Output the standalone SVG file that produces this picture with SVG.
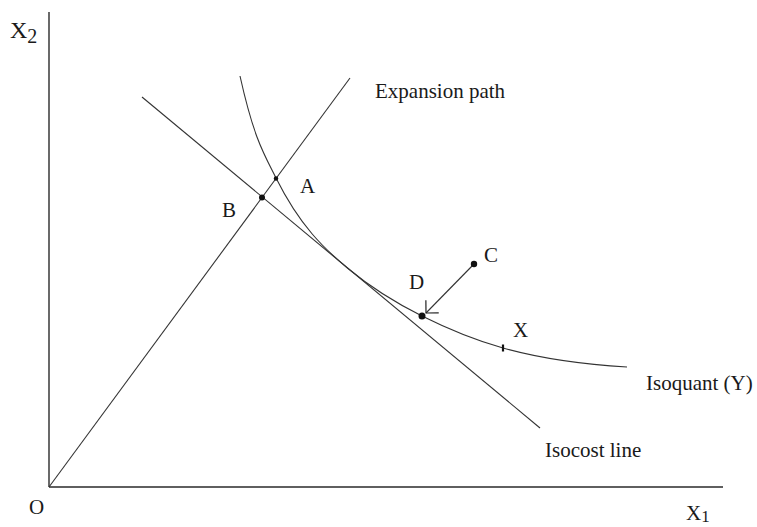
<svg xmlns="http://www.w3.org/2000/svg" width="757" height="527" viewBox="0 0 757 527">
  <style>
    .axis { stroke: #2a2a2a; stroke-width: 1.4; fill: none; }
    .ln { stroke: #333; stroke-width: 1.1; fill: none; }
    .lbl { font-family: "Liberation Serif", "Times New Roman", serif; font-size: 21px; fill: #1a1a1a; }
    .ax { font-family: "Liberation Serif", "Times New Roman", serif; fill: #1a1a1a; }
    .dot { fill: #111; }
  </style>
  <defs>
    <marker id="openArrow" viewBox="0 0 20 20" refX="10" refY="10" markerWidth="20" markerHeight="20" markerUnits="userSpaceOnUse" orient="auto">
      <path d="M1,1 L10,10 L1,19" fill="none" stroke="#222" stroke-width="1.2"/>
    </marker>
  </defs>
  <rect x="0" y="0" width="757" height="527" fill="#ffffff"/>

  <g id="axes">
    <line class="axis" x1="49" y1="12" x2="49" y2="487"/>
    <line class="axis" x1="49" y1="487" x2="723" y2="487"/>
    <text class="ax" x="10" y="38" font-size="24">X<tspan font-size="20" dy="5">2</tspan></text>
    <text class="ax" x="686" y="520" font-size="21">X<tspan font-size="17" dy="2">1</tspan></text>
    <text class="lbl" x="29" y="514">O</text>
  </g>

  <g id="connectors">
    <line id="expansion-path" class="ln" x1="49" y1="487" x2="350" y2="78"/>
    <line id="isocost-line" class="ln" x1="142" y1="97" x2="540" y2="428"/>
    <path id="isoquant" class="ln" d="M240,76 C245.67,101.5 251.33,121.7 257,137 C263.33,154.1 269.67,165.33 276,178 C300,226 324,248.53 348,268.5 C372.67,289.02 397.33,303.67 422,316 C449,329.5 476,340.44 503,348 C544.33,359.57 585.67,364.52 627,367"/>
    <line id="arrow-CD" class="ln" x1="474" y1="264" x2="426" y2="313" marker-end="url(#openArrow)"/>
  </g>

  <g id="curve-labels">
    <text class="lbl" x="375" y="98">Expansion path</text>
    <text class="lbl" x="545" y="457">Isocost line</text>
    <text class="lbl" x="646" y="390">Isoquant (Y)</text>
  </g>

  <g id="point-A">
    <circle class="dot" cx="276" cy="178.5" r="2.2"/>
    <text class="lbl" x="300" y="193">A</text>
  </g>
  <g id="point-B">
    <circle class="dot" cx="262" cy="197.5" r="3"/>
    <text class="lbl" x="222" y="217">B</text>
  </g>
  <g id="point-C">
    <circle class="dot" cx="474" cy="264" r="3.2"/>
    <text class="lbl" x="484" y="262">C</text>
  </g>
  <g id="point-D">
    <circle class="dot" cx="422" cy="316" r="3.5"/>
    <text class="lbl" x="409" y="289">D</text>
  </g>
  <g id="point-X">
    <line x1="503" y1="344.5" x2="503" y2="351.5" stroke="#111" stroke-width="2.2"/>
    <text class="lbl" x="513" y="337">X</text>
  </g>
</svg>
